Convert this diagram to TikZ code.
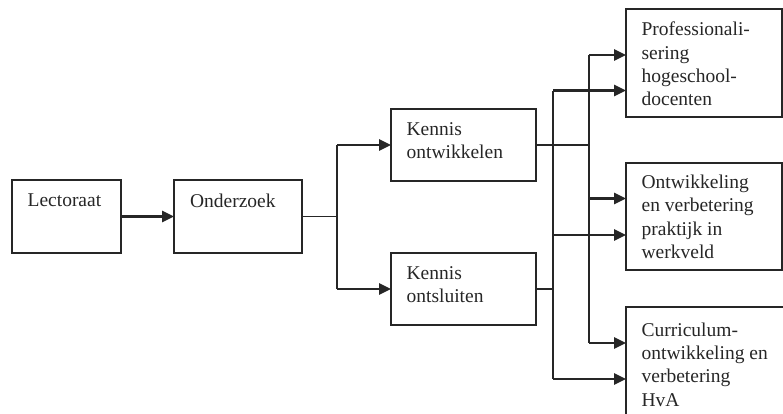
\documentclass[tikz,border=0pt]{standalone}
\usepackage{fontspec}
\setmainfont{Liberation Serif}
\usetikzlibrary{arrows.meta,calc}
\tikzset{
  box/.style={draw=black!85, line width=1.2pt, inner sep=0pt, rectangle},
  txt/.style={font=\fontsize{19.5}{23.3}\selectfont, align=left, inner sep=0pt, anchor=north west, text=black!85},
  thinline/.style={draw=black!85, line width=1.3pt},
  medline/.style={draw=black!85, line width=2pt},
  arr/.style={draw=black!85, line width=2.6pt, -{Triangle[length=12pt,width=11pt]}, shorten >=-0.6pt},
}
\begin{document}
\begin{tikzpicture}[x=1pt,y=-1pt]
\useasboundingbox (0,0) rectangle (783,413);
\clip (0,0) rectangle (783,413);
% boxes
\node[box, minimum width=109pt, minimum height=73pt] (lect) at (66.5,216.5) {};
\node[box, minimum width=128pt, minimum height=73pt] (onder) at (238,216.5) {};
\node[box, minimum width=145pt, minimum height=72pt] (kont) at (463.5,145) {};
\node[box, minimum width=145pt, minimum height=72pt] (ksl) at (463.5,289) {};
\node[box, minimum width=156pt, minimum height=108pt] (prof) at (704,63) {};
\node[box, minimum width=156pt, minimum height=107pt] (ontw) at (704,216.5) {};
\node[box, minimum width=174pt, minimum height=123pt] (curr) at (713,368.5) {};
% texts
\node[txt] (tlect) at ($(lect.north west)+(16,14)$) {Lectoraat};
\node[txt] (tonder) at ($(onder.north west)+(16.5,14)$) {Onderzoek};
\node[txt] (tkont) at ($(kont.north west)+(16,13.5)$) {Kennis\\ontwikkelen};
\node[txt] (tksl) at ($(ksl.north west)+(16,13.5)$) {Kennis\\ontsluiten};
\node[txt] (tprof) at ($(prof.north west)+(16,13.5)$) {Professionali-\\sering\\hogeschool-\\docenten};
\node[txt] (tontw) at ($(ontw.north west)+(16,12.5)$) {Ontwikkeling\\en verbetering\\praktijk in\\werkveld};
\node[txt] (tcurr) at ($(curr.north west)+(16,16)$) {Curriculum-\\ontwikkeling en\\verbetering\\HvA};
% junction coordinates
\coordinate (j1) at (337,216.5);
\coordinate (jA) at (589,0);
\coordinate (jB) at (553,0);
\coordinate (yP1) at (0,55);
\coordinate (yP2) at (0,90.5);
\coordinate (yO1) at (0,198.5);
\coordinate (yO2) at (0,235);
\coordinate (yC1) at (0,343);
\coordinate (yC2) at (0,379);
% left part
\draw[arr] (lect.east) -- (onder.west);
\draw[thinline] (onder.east) -- (j1);
\draw[thinline] (j1 |- kont.west) -- (j1 |- ksl.west);
\draw[arr] (j1 |- kont.west) -- (kont.west);
\draw[arr] (j1 |- ksl.west) -- (ksl.west);
% right buses
\draw[medline] (kont.east) -- (jA |- kont.east);
\draw[thinline] (ksl.east) -- (jB |- ksl.east);
\draw[thinline] (jA |- yP1) -- (jA |- yC1);
\draw[thinline] (jB |- yP2) -- (jB |- yC2);
\draw[arr] (jA |- yP1) -- (prof.west |- yP1);
\draw[arr] (jB |- yP2) -- (prof.west |- yP2);
\draw[arr] (jA |- yO1) -- (ontw.west |- yO1);
\draw[arr] (jB |- yO2) -- (ontw.west |- yO2);
\draw[arr] (jA |- yC1) -- (curr.west |- yC1);
\draw[arr] (jB |- yC2) -- (curr.west |- yC2);
\end{tikzpicture}
\end{document}
